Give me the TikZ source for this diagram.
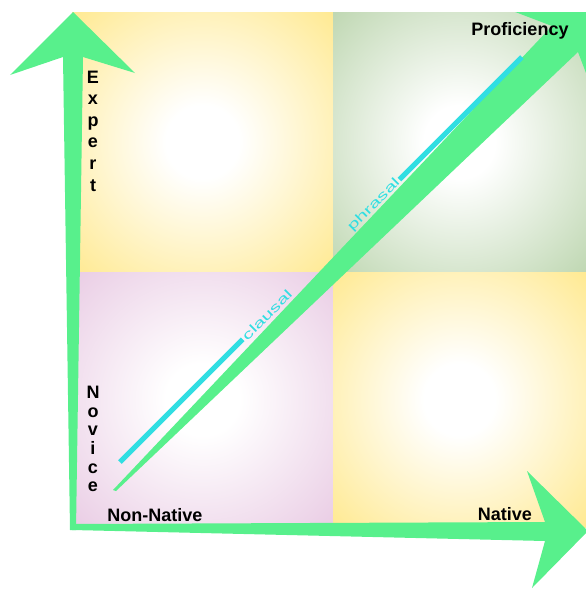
\documentclass[tikz,border=0pt]{standalone}
\usepackage{fontspec}
\setmainfont{Liberation Sans}
\usetikzlibrary{positioning}
\definecolor{quadyellow}{RGB}{255,230,128}
\definecolor{quadgreen}{RGB}{181,209,166}
\definecolor{quadpink}{RGB}{230,196,224}
\definecolor{arrowgreen}{RGB}{88,240,140}
\definecolor{lineblue}{RGB}{48,222,226}
\pgfdeclareradialshading{yellowglow}{\pgfpointorigin}{color(0bp)=(white); color(7bp)=(white); color(40bp)=(quadyellow); color(50bp)=(quadyellow)}
\pgfdeclareradialshading{greenglow}{\pgfpointorigin}{color(0bp)=(white); color(7bp)=(white); color(40bp)=(quadgreen); color(50bp)=(quadgreen)}
\pgfdeclareradialshading{pinkglow}{\pgfpointorigin}{color(0bp)=(white); color(7bp)=(white); color(40bp)=(quadpink); color(50bp)=(quadpink)}
\tikzset{
  bigarrow/.style={fill=arrowgreen, draw=none},
  axislabel/.style={font=\fontsize{18}{20}\selectfont\bfseries, text=black, inner sep=0pt},
  bandline/.style={draw=lineblue, line width=5pt},
  bandlabel/.style={font=\fontsize{13}{13}\selectfont, text=lineblue, rotate=45, xscale=1.6, inner sep=1pt}
}
\begin{document}
\begin{tikzpicture}[x=1pt, y=-1pt]
  \useasboundingbox (0,0) rectangle (586,590);
  % quadrants
  \shade[shading=yellowglow] (72,12) rectangle (333,272);
  \shade[shading=greenglow] (333,12) rectangle (586,272);
  \shade[shading=pinkglow] (72,272) rectangle (333,527);
  \shade[shading=yellowglow] (333,272) rectangle (586,527);
  % diagonal arrow
  \begin{scope}
    \clip (0,12) rectangle (586,590);
    \fill[bigarrow] (113,490) -- (552,26) -- (510,10) -- (597,7)
      -- (594,94) -- (578,52) -- (116,491) -- cycle;
  \end{scope}
  % band labels
  \coordinate (clausalstart) at (120,462);
  \coordinate (phrasalend) at (522,57);
  \node[bandlabel] (clausal) at (267,315) {clausal};
  \node[bandlabel] (phrasal) at (374,205) {phrasal};
  \draw[bandline] (clausalstart) -- (clausal.west);
  \draw[bandline] (phrasal.east) -- (phrasalend);
  % axes
  \fill[bigarrow] (70,530) -- (63,57) -- (10,75) -- (73,12) -- (135,73) -- (83,57) -- (76,530) -- cycle;
  \fill[bigarrow] (72,524) -- (545,522) -- (527,471) -- (588,531) -- (532,588) -- (545,541) -- (72,530) -- cycle;
  % labels
  \node[axislabel] (prof) at (520,31) {Proficiency};
  \node[axislabel] (nonnative) at (155,515) {Non-Native};
  \node[axislabel] (native) at (505,514) {Native};
  \node[axislabel, align=center, font=\fontsize{18}{21.6}\selectfont\bfseries] (expert) at (93,131) {E\\x\\p\\e\\r\\t};
  \node[axislabel, align=center, font=\fontsize{18}{18.6}\selectfont\bfseries] (novice) at (93,439) {N\\o\\v\\i\\c\\e};
\end{tikzpicture}
\end{document}
